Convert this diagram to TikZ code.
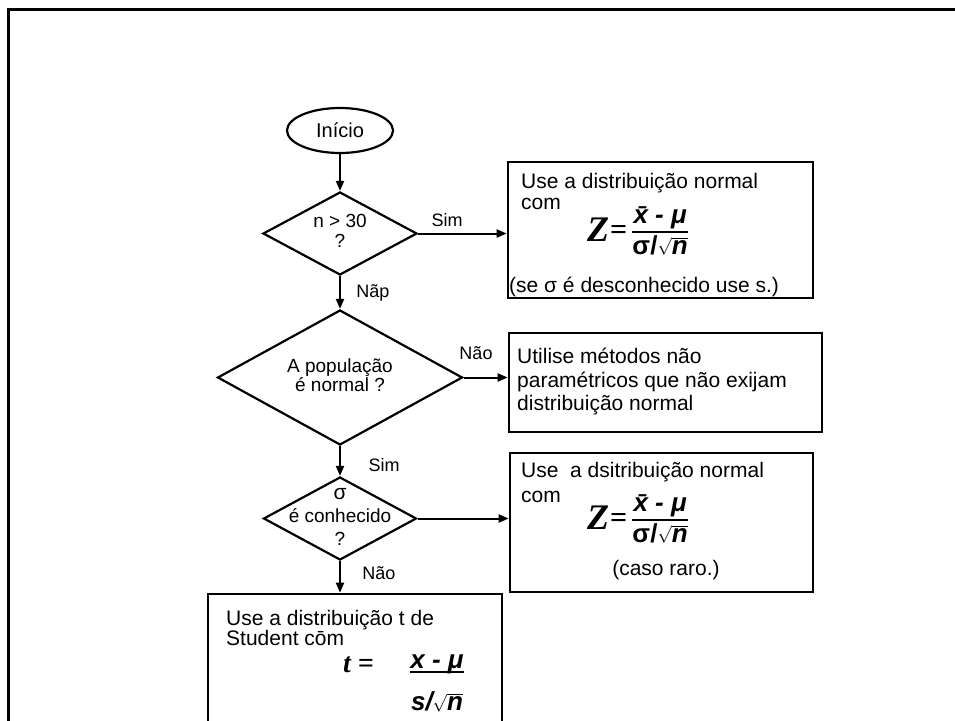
\documentclass[tikz,border=0pt]{standalone}
\usepackage{fontspec}
\setmainfont{Liberation Sans}
\newfontfamily\timesfont{Liberation Serif}
\usepackage{tikz}
\usetikzlibrary{shapes.geometric, arrows.meta, positioning}

\newcommand{\zratio}{\raisebox{-3pt}{\fontsize{36}{36}\selectfont\timesfont\bfseries\itshape Z}\kern1pt\raisebox{-1pt}{\fontsize{30}{30}\selectfont\timesfont\bfseries=}\kern4pt${\mbox{\bfseries\itshape \=x - μ}\above 2pt\mbox{\bfseries σ/}\sqrt{\mbox{\bfseries\itshape n}}}$}
\newcommand{\tratio}{${\raisebox{0pt}[\height][0pt]{\bfseries\itshape x - μ}\above 1.6pt\rule{0pt}{36pt}\mbox{\bfseries\itshape s/}\sqrt{\mbox{\bfseries\itshape n}}}$}

\begin{document}
\begin{tikzpicture}[
          x=1pt, y=-1pt,
          decision/.style={diamond, draw, line width=2.2pt, inner sep=0pt},
          block/.style={rectangle, draw, line width=2.6pt, inner sep=0pt},
          txt/.style={inner sep=0pt, anchor=base west, font=\fontsize{21}{25}\selectfont},
          lbl/.style={inner sep=0pt, font=\fontsize{18}{21}\selectfont},
          formula/.style={inner sep=0pt, anchor=base west, font=\fontsize{26}{30}\selectfont},
          arrow/.style={-{Triangle[length=10pt, width=8pt]}, line width=2pt}
        ]
          \useasboundingbox (0,0) rectangle (955,720);
          \clip (0,0) rectangle (955,720);
          \draw [line width=2.6pt] (8.7,9.5) rectangle (990,760);

          \node (inicio) [ellipse, draw, line width=2.2pt, minimum width=106pt, minimum height=45pt, inner sep=0pt, font=\fontsize{20}{24}\selectfont] at (340,130.5) {Início};
          \node (amostra) [decision, minimum width=154pt, minimum height=83pt,
            label={[align=center, yshift=3pt, font=\fontsize{19}{20}\selectfont]center:n > 30\\?}] at (340,233.5) {};
          \node (populacao) [decision, minimum width=245pt, minimum height=135pt,
            label={[align=center, yshift=2.5pt, font=\fontsize{19}{16}\selectfont]center:A população\\é normal ?}] at (340,377.5) {};
          \node (sigma) [decision, minimum width=153pt, minimum height=83pt,
            label={[align=center, yshift=1.5pt, font=\fontsize{19}{23}\selectfont]center:{\fontsize{21}{21}\selectfont σ}\\é conhecido\\?}] at (340,518.5) {};

          \node (normalbox) [block, minimum width=305pt, minimum height=136pt] at (660.5,230) {};
          \node (naoparbox) [block, minimum width=313pt, minimum height=99pt] at (665.5,382.5) {};
          \node (rarobox) [block, minimum width=303pt, minimum height=139pt] at (661.5,522.5) {};
          \node (studentbox) [block, minimum width=294pt, minimum height=170pt] at (355,679) {};

          \node (normaltxt) [txt] at (521,188) {Use a distribuição normal};
          \node (normalcom) [txt] at (521,209) {com};
          \node (normalz) [formula] at (587,238.5) {\zratio};
          \node (normalsig) [txt] at (509,292) {(se σ é desconhecido use s.)};

          \node (naopar1) [txt] at (517,363) {Utilise métodos não};
          \node (naopar2) [txt] at (517,387) {paramétricos que não exijam};
          \node (naopar3) [txt] at (517,410) {distribuição normal};

          \node (rarotxt) [txt] at (521,477) {Use\ \ a dsitribuição normal};
          \node (rarocom) [txt] at (521,502) {com};
          \node (raroz) [formula] at (587,526.5) {\zratio};
          \node (raronota) [txt, anchor=base] at (666,575) {(caso raro.)};

          \node (studenttxt) [txt] at (226,625) {Use a distribuição t de};
          \node (studentcom) [txt] at (226,645) {Student c\=om};
          \node (studentt) [formula, font=\fontsize{28}{28}\selectfont\timesfont\bfseries\itshape] at (343,672) {t =};
          \node (studentfrac) [formula] at (409,678.5) {\tratio};

          \draw [arrow] (inicio) -- (amostra);
          \draw [arrow] (amostra.east) -- (amostra.east -| normalbox.west);
          \draw [arrow] (amostra) -- (populacao);
          \draw [arrow] (populacao.east) -- (populacao.east -| naoparbox.west);
          \draw [arrow] (populacao) -- (sigma);
          \draw [arrow] (sigma.east) -- (sigma.east -| rarobox.west);
          \draw [arrow] (sigma.south) -- (sigma.south |- studentbox.north);

          \node (simA) [lbl] at (447,220) {Sim};
          \node (naoA) [lbl] at (373,293) {Nãp};
          \node (naoB) [lbl] at (476,353) {Não};
          \node (simB) [lbl] at (384,465) {Sim};
          \node (naoC) [lbl] at (379,573) {Não};
        \end{tikzpicture}
\end{document}
